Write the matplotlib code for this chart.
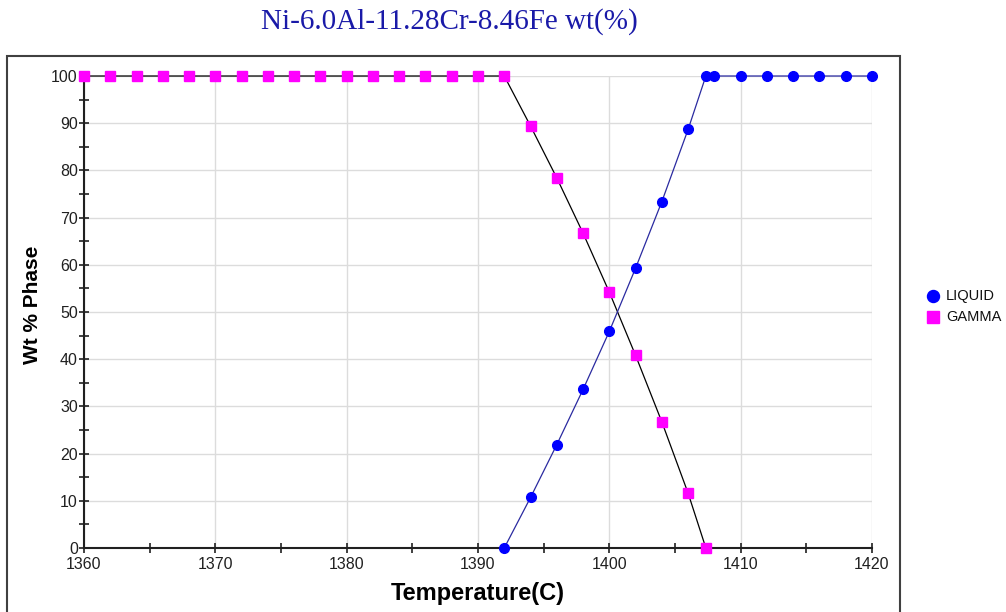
import matplotlib
matplotlib.use("Agg")
import matplotlib.pyplot as plt
from matplotlib.patches import Rectangle
from matplotlib.lines import Line2D
from matplotlib.ticker import MultipleLocator

title = "Ni-6.0Al-11.28Cr-8.46Fe wt(%)"
x_label = "Temperature(C)"
y_label = "Wt % Phase"
series_names = ["LIQUID", "GAMMA"]

liquid_T = [1392, 1394, 1396, 1398, 1400, 1402, 1404, 1406, 1407.35, 1408,
            1410, 1412, 1414, 1416, 1418, 1420]
liquid_v = [0, 10.7, 21.9, 33.6, 45.9, 59.3, 73.4, 88.7, 100, 100,
            100, 100, 100, 100, 100, 100]

gamma_T = [1360, 1362, 1364, 1366, 1368, 1370, 1372, 1374, 1376, 1378, 1380,
           1382, 1384, 1386, 1388, 1390, 1392, 1394, 1396, 1398, 1400, 1402,
           1404, 1406, 1407.35]
gamma_v = [100, 100, 100, 100, 100, 100, 100, 100, 100, 100, 100,
           100, 100, 100, 100, 100, 100, 89.4, 78.4, 66.7, 54.2, 40.8,
           26.7, 11.6, 0]

W, H = 1006, 612
fig = plt.figure(figsize=(W / 100, H / 100), dpi=100)
fig.patch.set_facecolor("white")

# outer frame
fig.add_artist(Rectangle((7 / W, -0.05), (900 - 7) / W, 1 - 56 / H + 0.05,
                         transform=fig.transFigure, fill=False,
                         edgecolor="#404040", linewidth=1.5))

ax = fig.add_axes([84 / W, 1 - 548 / H, (872 - 84) / W, (548 - 76) / H])
ax.set_xlim(1360, 1420)
ax.set_ylim(0, 100)
for s in ["top", "right"]:
    ax.spines[s].set_visible(False)
for s in ["left", "bottom"]:
    ax.spines[s].set_linewidth(1.5)
    ax.spines[s].set_color("#202020")

ax.xaxis.set_major_locator(MultipleLocator(10))
ax.xaxis.set_minor_locator(MultipleLocator(5))
ax.yaxis.set_major_locator(MultipleLocator(10))
ax.yaxis.set_minor_locator(MultipleLocator(5))
ax.tick_params(which="both", direction="inout", length=7, width=1.2,
               colors="#202020", labelsize=11.5)
ax.tick_params(axis="x", pad=3)
ax.tick_params(axis="y", pad=1)
ax.grid(True, which="major", color="#dcdcdc", linewidth=1)
ax.set_axisbelow(True)

for lbl in ax.get_xticklabels() + ax.get_yticklabels():
    lbl.set_fontfamily("Liberation Sans")

ax.plot(gamma_T, gamma_v, color="black", linewidth=0.9, marker="s",
        markersize=7.5, markerfacecolor="#ff00ff", markeredgecolor="#ff00ff",
        clip_on=False, zorder=3)
ax.plot(liquid_T, liquid_v, color="#2a2aa0", linewidth=0.9, marker="o",
        markersize=7, markerfacecolor="#0000ff", markeredgecolor="#0000ff",
        clip_on=False, zorder=4)

ax.set_xlabel(x_label, fontsize=17, fontweight="bold",
              fontfamily="Liberation Sans", labelpad=7)
ax.set_ylabel(y_label, fontsize=15, fontweight="bold",
              fontfamily="Liberation Sans", va="center")
ax.yaxis.set_label_coords((33 - 84) / 788, (548 - 305) / 472)

fig.text(449 / W, 1 - 22 / H, title, ha="center", va="center",
         fontsize=21, color="#1a1aa8", fontfamily="Liberation Serif")

# legend (drawn at figure positions)
leg_markers = [("o", "#0000ff", 12), ("s", "#ff00ff", 11.5)]
leg_y = [296, 317]
for (mk, col, ms), yy, name in zip(leg_markers, leg_y, series_names):
    fig.add_artist(Line2D([933 / W], [1 - yy / H], marker=mk, markersize=ms * 0.72,
                          color=col, linestyle="none", transform=fig.transFigure))
    fig.text(946 / W, 1 - yy / H, name, ha="left", va="center", fontsize=10.5,
             fontfamily="Liberation Sans", color="#101010")

fig.savefig("out.png", dpi=100)
